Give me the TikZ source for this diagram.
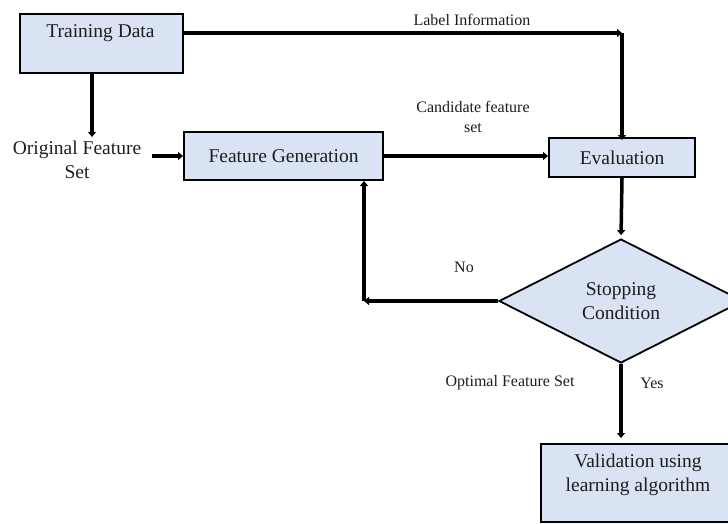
\documentclass[tikz,border=0pt]{standalone}
\usepackage{fontspec}
\setmainfont{Liberation Serif}
\usetikzlibrary{arrows.meta,shapes.geometric}
\definecolor{boxfill}{RGB}{218,227,243}
\definecolor{ink}{RGB}{30,30,30}
\begin{document}
\begin{tikzpicture}[x=1pt,y=-1pt,
  mainfont/.style={font=\fontsize{19.5}{24}\selectfont, text=ink},
  smallfont/.style={font=\fontsize{16}{19.5}\selectfont, text=ink},
  procbox/.style={draw=black, line width=2pt, fill=boxfill, rectangle, inner sep=0pt, mainfont},
  decision/.style={draw=black, line width=1.8pt, fill=boxfill, diamond, inner sep=0pt,
    minimum width=244pt, minimum height=124pt, aspect=1.97, mainfont, align=center},
  flow/.style={line width=3.5pt, -{Triangle[length=5pt,width=8pt]}},
  plain/.style={inner sep=0pt, align=center}
]
\useasboundingbox (0,0) rectangle (728,523);
\clip (0,0) rectangle (728,523);

% process boxes
\node[procbox, minimum width=163pt, minimum height=59pt, anchor=north west] (td) at (19,13) {};
\node[plain, mainfont] (tdt) at (100.5,33) {Training Data};
\node[procbox, minimum width=199pt, minimum height=48pt] (fg) at (283.5,156) {Feature Generation};
\node[procbox, minimum width=146pt, minimum height=39pt] (ev) at (622,157.5) {Evaluation};
\node[decision] (dia) at (621,301) {Stopping\\Condition};
\node[procbox, minimum width=196pt, minimum height=78pt, anchor=north west] (val) at (540,443) {};
\node[plain, mainfont] (valt) at (638,475) {Validation using\\learning algorithm};

% free text
\node[plain, mainfont] (ofs) at (77,160) {Original Feature\\Set};
\node[plain, smallfont] (lbl) at (472,20) {Label Information};
\node[plain, smallfont] (cand) at (473,117) {Candidate feature\\set};
\node[plain, smallfont] (no) at (464,267) {No};
\node[plain, smallfont] (yes) at (652,383) {Yes};
\node[plain, smallfont] (opt) at (510,383) {Optimal Feature Set};

% corner points of the bent connectors
\coordinate (lblcorner) at (ev.north |- tdt);
\coordinate (nocorner) at (364,301);
\coordinate (tdout) at (92,72);

% connectors
\draw[flow, shorten >=4pt] (tdout) -- (tdout |- ofs.north);
\draw[flow] ([xshift=11pt]ofs.east |- fg.west) -- (fg.west);
\draw[flow] (fg.east) -- (fg.east -| ev.west);
\draw[flow] (tdt -| td.east) -- (lblcorner);
\draw[flow] (lblcorner) -- ([yshift=-3pt]ev.north);
\draw[flow, shorten >=3pt] (ev.south) -- (dia.north);
\draw[flow] (dia.west) -- (nocorner);
\draw[flow] (nocorner) -- (nocorner |- fg.south);
\draw[flow, shorten >=5pt] (dia.south) -- (dia.south |- val.north);
\end{tikzpicture}
\end{document}
